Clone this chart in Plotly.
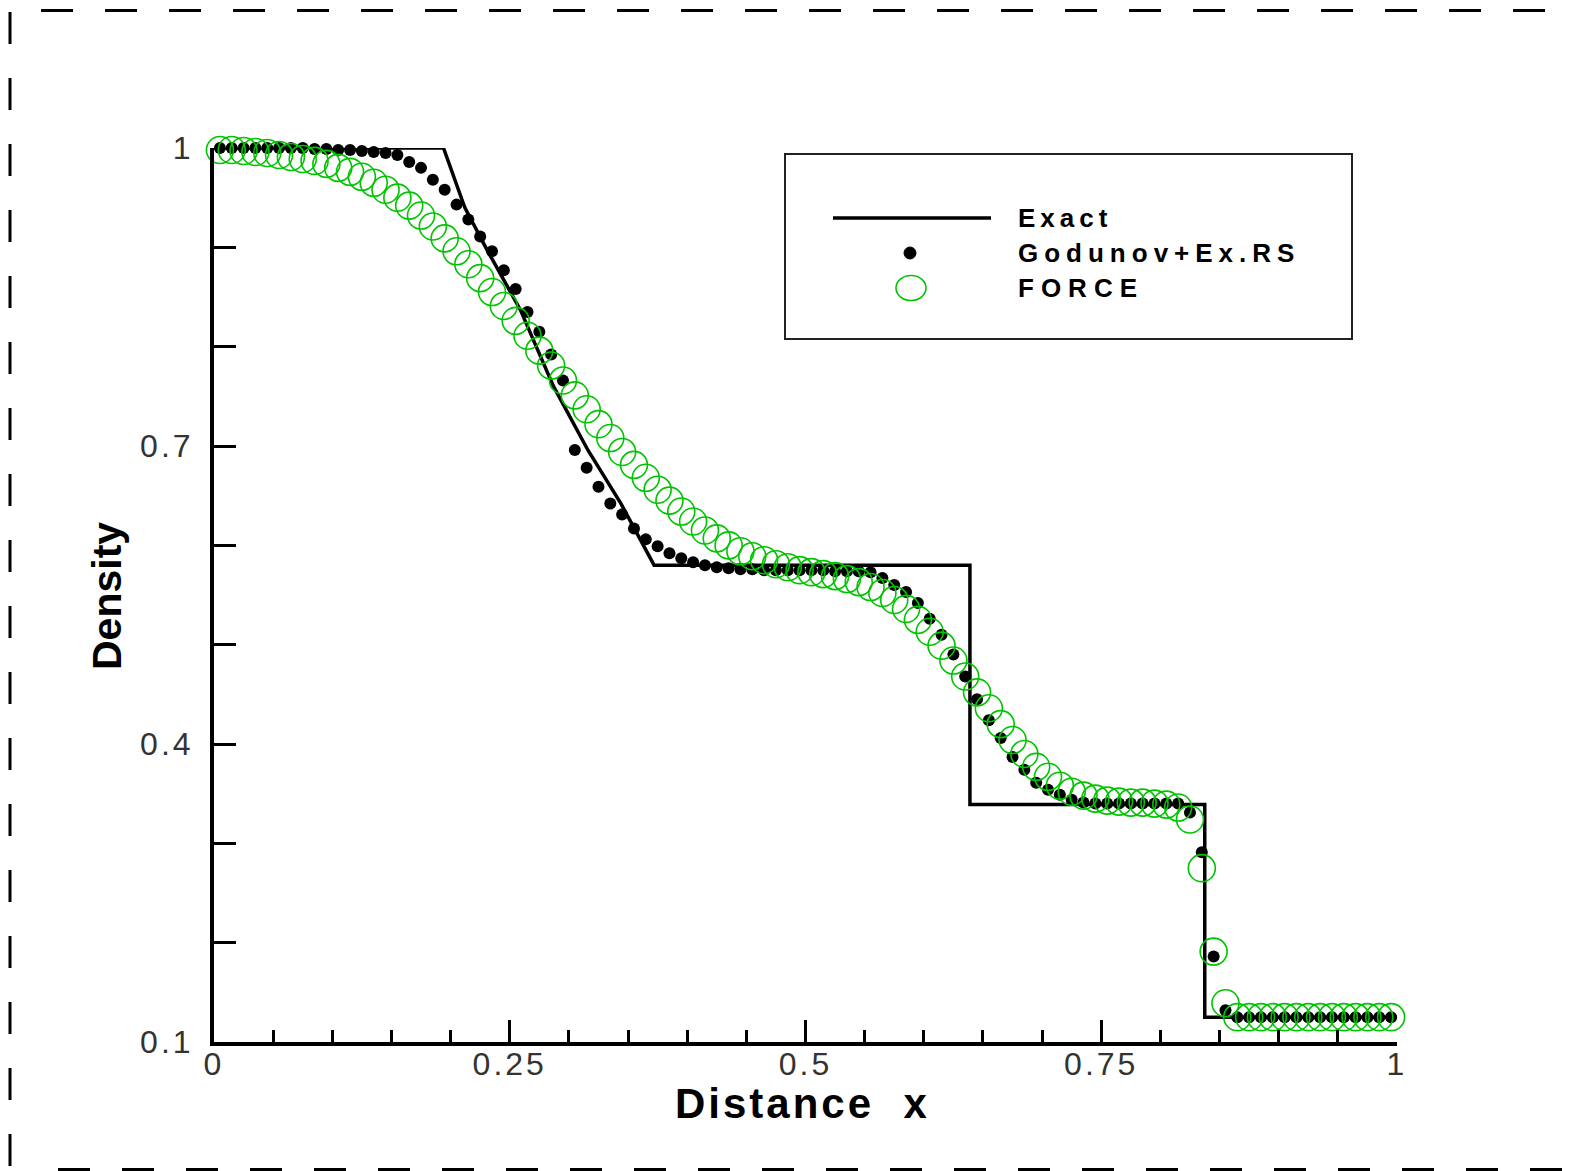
import plotly.graph_objects as go

# ---------------- data ----------------
x_cells = [round(0.005 + 0.01 * k, 3) for k in range(100)]

godunov = [
    1.0, 1.0, 1.0, 1.0, 1.0, 1.0, 1.0, 1.0,
    0.999, 0.999, 0.998, 0.998, 0.997, 0.996, 0.995,
    0.993, 0.986, 0.980, 0.968, 0.958, 0.943, 0.928, 0.911, 0.896, 0.877, 0.858,
    0.835, 0.815, 0.792, 0.766, 0.696, 0.678, 0.659, 0.642, 0.631, 0.617, 0.606, 0.599,
    0.592, 0.587, 0.583, 0.580, 0.578, 0.577,
    0.576, 0.576, 0.575, 0.575, 0.575, 0.575, 0.575, 0.575, 0.574, 0.574, 0.574,
    0.573, 0.567, 0.560, 0.553, 0.542, 0.526, 0.510, 0.490, 0.468, 0.445,
    0.424, 0.406, 0.387, 0.374, 0.361, 0.354, 0.349, 0.344, 0.341,
    0.340, 0.340, 0.340, 0.340, 0.340, 0.340, 0.340, 0.340,
    0.331, 0.291, 0.186, 0.132,
    0.125, 0.125, 0.125, 0.125, 0.125, 0.125, 0.125,
    0.125, 0.125, 0.125, 0.125, 0.125, 0.125, 0.125,
]

force = [
    0.998, 0.998, 0.997, 0.996, 0.995, 0.993, 0.991, 0.989, 0.987, 0.984,
    0.980, 0.976, 0.971, 0.965, 0.958, 0.950, 0.942, 0.932, 0.921, 0.909,
    0.896, 0.883, 0.869, 0.855, 0.841, 0.826, 0.811, 0.796, 0.781, 0.766,
    0.751, 0.737, 0.722, 0.708, 0.694, 0.681, 0.668, 0.656, 0.645, 0.634,
    0.624, 0.615, 0.607, 0.600, 0.594, 0.589, 0.585, 0.581, 0.578, 0.575,
    0.573, 0.571, 0.569, 0.566, 0.563, 0.558, 0.552, 0.545, 0.536, 0.525,
    0.513, 0.499, 0.484, 0.468, 0.452, 0.436, 0.420, 0.404, 0.390, 0.377,
    0.367, 0.358, 0.352, 0.348, 0.345, 0.343, 0.342, 0.341, 0.341, 0.340,
    0.339, 0.336, 0.324, 0.275, 0.191, 0.139, 0.125, 0.125, 0.125, 0.125,
    0.125, 0.125, 0.125, 0.125, 0.125, 0.125, 0.125, 0.125, 0.125, 0.125,
]

exact_x = [0.0, 0.194, 0.212, 0.231, 0.259, 0.287, 0.316, 0.344, 0.372,
           0.639, 0.639, 0.8375, 0.8375, 1.0]
exact_y = [1.0, 1.0, 0.94, 0.897, 0.837, 0.760, 0.696, 0.642, 0.580,
           0.580, 0.339, 0.339, 0.125, 0.125]

y_tickvals = [0.1, 0.2, 0.3, 0.4, 0.5, 0.6, 0.7, 0.8, 0.9, 1.0]
y_ticklabels = ["0.1", "", "", "0.4", "", "", "0.7", "", "", "1"]
x_tickvals = [0.0, 0.25, 0.5, 0.75, 1.0]
x_ticklabels = ["0", "0.25", "0.5", "0.75", "1"]
x_minor_ticks = [0.05, 0.1, 0.15, 0.2, 0.3, 0.35, 0.4, 0.45, 0.55, 0.6, 0.65,
                 0.7, 0.8, 0.85, 0.9, 0.95]

series_names = ["Exact", "Godunov+Ex.RS", "FORCE"]

# ---------------- layout helpers (pixel -> paper) ----------------
W, H = 1574, 1171
PL, PR, PT, PB = 214, 1397, 148, 1042


def fx(p):
    return (p - PL) / (PR - PL)


def fy(p):
    return (PB - p) / (PB - PT)


GREEN = "#00c400"
FONT = "Liberation Sans, Arial, sans-serif"


def spaced(t, sp):
    return "<span style='letter-spacing:%dpx'>%s</span>" % (sp, t)


fig = go.Figure()
fig.add_trace(go.Scatter(x=exact_x, y=exact_y, mode="lines", name=series_names[0],
                         line=dict(color="black", width=3.5), cliponaxis=False))
fig.add_trace(go.Scatter(x=x_cells, y=godunov, mode="markers", name=series_names[1],
                         marker=dict(color="black", size=12, symbol="circle"),
                         cliponaxis=False))
fig.add_trace(go.Scatter(x=x_cells, y=force, mode="markers", name=series_names[2],
                         marker=dict(color=GREEN, size=27, symbol="circle-open",
                                     line=dict(width=1.6)),
                         cliponaxis=False))

tickfont = dict(family=FONT, size=32, color="#333333")

fig.update_layout(
    width=W, height=H, autosize=False,
    margin=dict(l=PL, r=W - PR, t=PT, b=H - PB, pad=0),
    paper_bgcolor="white", plot_bgcolor="white",
    showlegend=False,
    xaxis=dict(range=[0, 1], showgrid=False, zeroline=False,
               showline=True, linecolor="black", linewidth=4,
               ticks="inside", ticklen=22, tickwidth=3, tickcolor="black",
               tickmode="array", tickvals=x_tickvals,
               ticktext=[spaced(t, 3) for t in x_ticklabels],
               tickfont=tickfont, ticklabelstandoff=-9,
               minor=dict(tickmode="array", tickvals=x_minor_ticks, ticks="inside",
                          ticklen=12, tickwidth=3, tickcolor="black", showgrid=False)),
    yaxis=dict(range=[0.1, 1.0], showgrid=False, zeroline=False,
               showline=True, linecolor="black", linewidth=4,
               ticks="inside", ticklen=22, tickwidth=3, tickcolor="black",
               tickmode="array", tickvals=y_tickvals,
               ticktext=[spaced(t, 3) if t else "" for t in y_ticklabels],
               tickfont=tickfont, ticklabelstandoff=10),
)

shapes = []
# dashed page border
shapes.append(dict(type="line", xref="paper", yref="paper",
                   x0=fx(41), x1=fx(W), y0=fy(10.5), y1=fy(10.5),
                   line=dict(color="black", width=3, dash="32px,32px")))
shapes.append(dict(type="line", xref="paper", yref="paper",
                   x0=fx(10), x1=fx(10), y0=fy(12), y1=fy(H),
                   line=dict(color="black", width=3, dash="32px,34px")))
shapes.append(dict(type="line", xref="paper", yref="paper",
                   x0=fx(58), x1=fx(W), y0=fy(1169.5), y1=fy(1169.5),
                   line=dict(color="black", width=3, dash="32px,32px")))
# legend box
shapes.append(dict(type="rect", xref="paper", yref="paper",
                   x0=fx(785), x1=fx(1352), y0=fy(154), y1=fy(339),
                   line=dict(color="#222", width=2), fillcolor="rgba(0,0,0,0)"))
shapes.append(dict(type="line", xref="paper", yref="paper",
                   x0=fx(833), x1=fx(991), y0=fy(218), y1=fy(218),
                   line=dict(color="black", width=3.5)))
shapes.append(dict(type="circle", xref="paper", yref="paper",
                   x0=fx(904), x1=fx(916), y0=fy(247), y1=fy(259),
                   line=dict(color="black", width=1), fillcolor="black"))
shapes.append(dict(type="circle", xref="paper", yref="paper",
                   x0=fx(896), x1=fx(926), y0=fy(275.5), y1=fy(300.5),
                   line=dict(color=GREEN, width=1.6)))
fig.update_layout(shapes=shapes)

ann = []
for name, yy, sp in zip(series_names, [218, 253, 288], [5, 6, 7]):
    ann.append(dict(xref="paper", yref="paper", x=fx(1016), y=fy(yy),
                    xanchor="left", yanchor="middle", showarrow=False,
                    text="<b>" + spaced(name, sp) + "</b>",
                    font=dict(family=FONT, size=26, color="black")))
ann.append(dict(xref="paper", yref="paper", x=fx(107), y=fy(596),
                xanchor="center", yanchor="middle", showarrow=False, textangle=-90,
                text="<b>Density</b>",
                font=dict(family=FONT, size=41, color="black")))
ann.append(dict(xref="paper", yref="paper", x=fx(802), y=fy(1103),
                xanchor="center", yanchor="middle", showarrow=False,
                text="<b>" + spaced("Distance\u00a0\u00a0x", 3) + "</b>",
                font=dict(family=FONT, size=42, color="black")))
fig.update_layout(annotations=ann)

fig.write_html("out.html")
